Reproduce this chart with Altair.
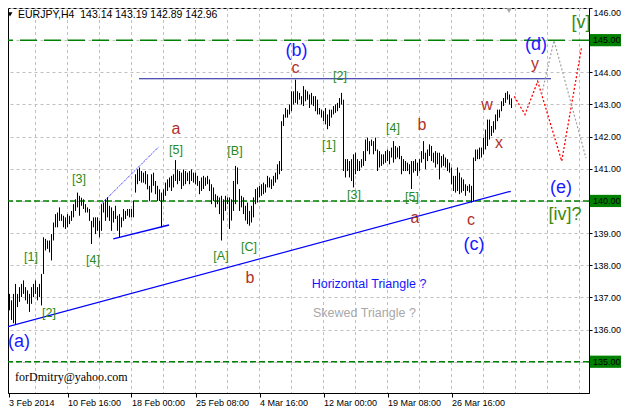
import altair as alt
import pandas as pd

# ---- OHLC bar highs / lows (EURJPY H4), one per bar, left to right ----
bar_high = [
    137.84, 137.50, 137.11, 136.91, 137.11, 137.42, 137.11, 137.32, 137.42, 137.53,
    137.32, 137.22, 137.11, 137.32, 137.42, 137.53, 137.32, 137.42, 137.73, 138.87,
    138.82, 138.77, 138.77, 138.97, 139.33, 139.59, 139.64, 139.80, 139.59, 139.54,
    139.49, 139.59, 139.54, 139.69, 139.90, 140.05, 140.26, 140.16, 140.10, 140.05,
    139.90, 139.80, 139.75, 139.38, 139.49, 139.49, 139.49, 139.38, 139.90, 139.95,
    140.05, 140.11, 139.85, 139.80, 139.69, 139.85, 139.54, 139.59, 139.49, 139.75,
    139.69, 139.75, 139.75, 139.75, 140.00, 140.83, 140.98, 141.04, 140.93, 140.88,
    140.93, 140.83, 140.47, 140.83, 140.88, 140.62, 140.47, 140.36, 140.26, 140.36,
    140.57, 140.67, 140.73, 140.78, 140.83, 141.27, 140.98, 140.93, 140.88, 140.98,
    140.93, 140.88, 140.93, 140.98, 140.88, 140.88, 140.78, 140.62, 140.73, 140.78,
    140.73, 140.78, 140.67, 140.52, 140.42, 140.21, 140.16, 140.11, 140.16, 140.05,
    140.16, 140.11, 140.11, 140.05, 140.62, 141.09, 141.04, 140.37, 140.16, 140.11,
    139.85, 139.95, 139.69, 139.85, 140.11, 140.37, 140.42, 140.47, 140.52, 140.57,
    140.52, 140.78, 140.73, 140.67, 140.78, 140.88, 141.14, 141.24, 142.48, 142.69,
    142.89, 142.84, 143.00, 143.41, 143.41, 143.77, 143.41, 143.36, 143.26, 143.57,
    143.46, 143.41, 143.31, 143.36, 143.26, 143.26, 143.15, 142.89, 142.84, 142.79,
    142.89, 142.69, 142.84, 142.84, 142.95, 143.00, 143.05, 143.20, 143.36, 143.15,
    141.30, 141.30, 141.24, 141.30, 141.45, 141.50, 141.30, 141.24, 141.30, 141.55,
    141.91, 141.97, 141.86, 141.91, 141.86, 141.97, 141.60, 141.55, 141.45, 141.45,
    141.55, 141.60, 141.55, 141.66, 141.86, 141.71, 141.66, 141.71, 141.40, 141.30,
    141.24, 141.19, 141.14, 141.24, 141.24, 141.30, 141.19, 141.30, 141.55, 141.86,
    141.50, 141.60, 141.76, 141.71, 141.50, 141.55, 141.50, 141.50, 141.40, 141.45,
    141.35, 141.30, 141.19, 141.04, 140.78, 140.78, 141.04, 140.88, 140.73, 140.67,
    140.52, 140.47, 140.52, 140.47, 141.35, 141.60, 141.60, 141.66, 141.66, 141.97,
    142.22, 142.53, 142.53, 142.33, 142.48, 142.69, 142.84, 142.84, 143.10, 143.20,
    143.36, 143.41, 143.31, 143.19,
]
bar_low = [
    137.32, 137.00, 136.60, 136.30, 136.20, 136.15, 136.70, 136.86, 137.01, 137.11,
    136.91, 136.80, 136.55, 136.80, 137.01, 137.11, 136.91, 137.01, 136.75, 137.73,
    138.46, 138.51, 138.40, 138.15, 138.77, 139.18, 139.18, 139.38, 139.38, 139.18,
    139.13, 139.18, 139.28, 139.38, 139.49, 139.69, 139.80, 139.54, 139.85, 139.75,
    139.64, 139.64, 139.38, 138.66, 139.18, 138.97, 139.07, 138.87, 139.07, 139.64,
    139.38, 139.49, 139.38, 139.07, 139.33, 139.44, 139.07, 138.87, 139.18, 139.38,
    139.44, 139.54, 139.49, 139.49, 139.49, 140.26, 140.52, 140.62, 140.57, 140.57,
    140.52, 140.36, 140.00, 140.26, 140.47, 140.21, 140.00, 140.00, 139.18, 140.00,
    140.16, 140.31, 140.42, 140.31, 140.42, 140.62, 140.52, 140.62, 140.37, 140.47,
    140.52, 140.62, 140.52, 140.62, 140.57, 140.52, 140.47, 140.21, 140.31, 140.37,
    140.47, 140.52, 140.31, 139.90, 140.00, 139.80, 139.90, 139.59, 138.77, 139.39,
    139.69, 139.90, 139.13, 139.39, 139.69, 139.90, 140.52, 139.69, 139.80, 139.59,
    139.39, 139.28, 139.23, 139.33, 139.49, 139.90, 139.95, 140.11, 140.16, 140.21,
    140.26, 140.42, 140.42, 140.37, 140.47, 140.57, 140.67, 140.83, 140.93, 142.33,
    142.59, 142.59, 142.69, 142.79, 143.00, 143.05, 143.00, 143.15, 143.00, 142.95,
    143.10, 143.15, 142.89, 143.00, 142.95, 142.79, 142.69, 142.69, 142.59, 142.48,
    142.38, 142.23, 142.33, 142.59, 142.69, 142.74, 142.79, 142.89, 143.00, 140.93,
    140.73, 140.93, 140.73, 140.62, 140.42, 140.83, 140.93, 140.93, 141.04, 141.09,
    141.24, 141.55, 141.45, 141.71, 141.45, 141.55, 140.93, 141.04, 141.09, 141.14,
    141.19, 141.24, 141.14, 141.35, 141.19, 141.30, 141.35, 141.30, 140.83, 140.93,
    140.93, 140.93, 140.83, 140.37, 140.88, 140.93, 140.78, 140.93, 141.19, 141.30,
    140.99, 141.24, 141.40, 141.24, 141.19, 141.04, 141.14, 140.67, 141.04, 141.09,
    141.04, 140.93, 140.88, 140.52, 140.31, 140.26, 140.31, 140.21, 140.26, 140.31,
    140.16, 140.31, 140.26, 139.95, 140.00, 141.24, 141.30, 141.30, 141.35, 141.45,
    141.60, 141.71, 141.91, 142.02, 142.12, 142.22, 142.48, 142.59, 142.79, 142.95,
    143.05, 143.15, 143.00, 142.89,
]

# ---- axes ----
price_ticks = [135, 136, 137, 138, 139, 140, 141, 142, 143, 144, 145, 146]
x_tick_idx = [1.5, 31, 63, 95, 127, 159, 191, 223]
x_tick_labels = ["3 Feb 2014", "10 Feb 16:00", "18 Feb 00:00", "25 Feb 08:00",
                 "4 Mar 16:00", "12 Mar 00:00", "19 Mar 08:00", "26 Mar 16:00"]
grid_idx = [15, 31, 47, 63, 79, 95, 111, 127, 143, 159, 175, 191, 207, 223, 239, 255, 271, 287]

# ---- horizontal levels ----
level_main = [145.0]
level_minor = [140.0, 135.0]
level_boxes = [145.0, 140.0, 135.0]

# ---- trend lines (bar index, price) ----
trend_i = [1.25, 252.6]
trend_p = [136.09, 140.30]
resist_i = [66.75, 272.75]
resist_p = [143.80, 143.80]
wedge_up_i = [48.1, 76.6]
wedge_up_p = [139.92, 141.68]
wedge_lo_i = [53.9, 81.75]
wedge_lo_p = [138.82, 139.25]
red_i = [254.4, 259.75, 266.1, 278.1, 288.1]
red_p = [143.25, 142.69, 143.72, 141.24, 144.80]
gray_i = [268.1, 274.25, 290.25]
gray_p = [143.32, 144.99, 141.33]

# ---- wave labels ----
blue_txt = ["(a)", "(b)", "(c)", "(d)", "(e)"]
blue_i = [6.75, 145.5, 234.25, 265.25, 277.75]
blue_p = [135.62, 144.66, 138.64, 144.85, 140.41]

red_txt = ["a", "b", "c", "a", "b", "c", "w", "x", "y"]
red_ti = [85.25, 122.25, 145.0, 204.75, 208.25, 232.75, 240.75, 246.75, 264.75]
red_tp = [142.23, 137.59, 144.13, 139.48, 142.36, 139.415, 142.975, 141.80, 144.26]

green_txt = ["[1]", "[2]", "[3]", "[4]", "[5]", "[A]", "[B]", "[C]",
             "[1]", "[2]", "[3]", "[4]", "[5]"]
green_i = [12.75, 21.75, 36.75, 43.75, 85.25, 107.75, 114.75, 121.75,
           161.75, 167.25, 174.25, 193.75, 203.25]
green_p = [138.27, 136.505, 140.68, 138.15, 141.58, 138.30, 141.55, 138.58,
           141.74, 143.87, 140.19, 142.26, 140.13]

green_big_txt = ["[v]", "[iv]?"]
green_big_i = [287.75, 279.75]
green_big_p = [145.545, 139.57]

note_txt = ["Horizontal Triangle ?", "Skewed Triangle ?"]
note_i = [153.1, 153.75]
note_p = [137.41, 136.51]
note_col = ["#1414ff", "#a8a8a8"]

email_txt = ["forDmitry@yahoo.com"]
email_i = [4.75]
email_p = [134.52]

title_txt = ["EURJPY,H4\u00a0\u00a0143.14 143.19 142.89 142.96"]
title_i = [6.25]
title_p = [145.78]

FONT = "Liberation Sans"

# 2 px per bar; plot area 581 x 385 px
xs = alt.Scale(domain=[1.25, 291.75], nice=False, zero=False)
ys = alt.Scale(domain=[134.028, 146.0], nice=False, zero=False)

label_expr = " : ".join(
    f"datum.value == {v} ? '{l}'" for v, l in zip(x_tick_idx, x_tick_labels)
) + " : ''"

x_axis = alt.Axis(values=x_tick_idx, labelExpr=label_expr, grid=False, title=None,
                  orient="bottom", labelAlign="left", labelBaseline="top",
                  tickSize=4, labelPadding=1, labelFlush=False, labelOverlap=False,
                  labelBound=False)
y_axis = alt.Axis(values=price_ticks, format=".2f", grid=True, title=None,
                  orient="right", tickSize=3, labelPadding=1, labelFlush=True,
                  labelOverlap=False, labelBound=False)


def X(f):
    return alt.X(f, type="quantitative", scale=xs, axis=x_axis)


def Y(f):
    return alt.Y(f, type="quantitative", scale=ys, axis=y_axis)


def line_df(ii, pp):
    return pd.DataFrame({"i": ii, "p": pp, "k": list(range(len(ii)))})


vgrid = alt.Chart(pd.DataFrame({"i": grid_idx})).mark_rule(
    color="#c0c0c0", strokeDash=[3, 3], strokeWidth=1, clip=True
).encode(x=X("i"))

lvl_main = alt.Chart(pd.DataFrame({"p": level_main})).mark_rule(
    color="#008000", strokeWidth=1.5, strokeDash=[17, 7]
).encode(y=Y("p"))

lvl_minor = alt.Chart(pd.DataFrame({"p": level_minor})).mark_rule(
    color="#008000", strokeWidth=1.5, strokeDash=[6, 3]
).encode(y=Y("p"))

trend = alt.Chart(line_df(trend_i, trend_p)).mark_line(
    color="#0000ff", strokeWidth=1.2, clip=True
).encode(x=X("i"), y=Y("p"), order="k:Q")

resist = alt.Chart(line_df(resist_i, resist_p)).mark_line(
    color="#18189a", strokeWidth=1.2, clip=True
).encode(x=X("i"), y=Y("p"), order="k:Q")

wedge_up = alt.Chart(line_df(wedge_up_i, wedge_up_p)).mark_line(
    color="#0000ff", strokeWidth=1, strokeDash=[1, 1], clip=True
).encode(x=X("i"), y=Y("p"), order="k:Q")

wedge_lo = alt.Chart(line_df(wedge_lo_i, wedge_lo_p)).mark_line(
    color="#0000ff", strokeWidth=1.5, clip=True
).encode(x=X("i"), y=Y("p"), order="k:Q")

bars_df = pd.DataFrame({"i": list(range(len(bar_high))), "high": bar_high, "low": bar_low})
bars = alt.Chart(bars_df).mark_rule(color="black", strokeWidth=1, clip=True).encode(
    x=X("i"), y=Y("low"), y2="high"
)

red_path = alt.Chart(line_df(red_i, red_p)).mark_line(
    color="#ff0000", strokeWidth=1.3, strokeDash=[2, 2], clip=True
).encode(x=X("i"), y=Y("p"), order="k:Q")

gray_path = alt.Chart(line_df(gray_i, gray_p)).mark_line(
    color="#a0a0a0", strokeWidth=1.2, strokeDash=[2, 2], clip=True
).encode(x=X("i"), y=Y("p"), order="k:Q")


def text_layer(txt, ii, pp, size, color, align="center", font=FONT):
    df = pd.DataFrame({"t": txt, "i": ii, "p": pp})
    return alt.Chart(df).mark_text(
        fontSize=size, color=color, align=align, baseline="middle", font=font
    ).encode(x=X("i"), y=Y("p"), text="t:N")


blue_lbl = text_layer(blue_txt, blue_i, blue_p, 18, "#1a1aff")
red_lbl = text_layer(red_txt, red_ti, red_tp, 16, "#b0302a")
green_lbl = text_layer(green_txt, green_i, green_p, 12.5, "#2a8a22")
green_big = text_layer(green_big_txt, green_big_i, green_big_p, 18, "#3a8a10")

notes_df = pd.DataFrame({"t": note_txt, "i": note_i, "p": note_p, "c": note_col})
notes = alt.Chart(notes_df).mark_text(
    fontSize=12.5, align="left", baseline="middle", font=FONT
).encode(x=X("i"), y=Y("p"), text="t:N", color=alt.Color("c:N", scale=None))

email = text_layer(email_txt, email_i, email_p, 12, "black", align="left",
                   font="Liberation Serif")
title = text_layer(title_txt, title_i, title_p, 10.5, "black", align="left")
title_mark = alt.Chart(pd.DataFrame({"i": [2.25], "p": [145.80]})).mark_point(
    shape="triangle-down", filled=True, color="black", size=24, opacity=1
).encode(x=X("i"), y=Y("p"))
shift_mark = alt.Chart(pd.DataFrame({"i": [251.75], "p": [145.93]})).mark_point(
    shape="triangle-down", filled=True, color="#a8a8a8", size=40, opacity=1
).encode(x=X("i"), y=Y("p"))

box_df = pd.DataFrame({"p": level_boxes, "label": [f"{v:.2f}" for v in level_boxes]})
boxes = alt.Chart(box_df).transform_calculate(
    top="datum.p + 0.19", bot="datum.p - 0.19"
).mark_rect(color="#008000").encode(
    x=alt.value(582), x2=alt.value(613), y=Y("top"), y2="bot:Q"
)
box_text = alt.Chart(box_df).mark_text(
    align="left", baseline="middle", font=FONT, fontSize=9, color="black"
).encode(x=alt.value(585), y=Y("p"), text="label:N")

chart = alt.layer(
    vgrid, lvl_main, lvl_minor, trend, resist, wedge_up, wedge_lo, bars,
    red_path, gray_path, blue_lbl, red_lbl, green_lbl, green_big, notes,
    email, title, title_mark, shift_mark, boxes, box_text
).properties(
    width=581, height=385,
    padding={"left": 0, "top": 0, "right": 32, "bottom": 17},
    autosize=alt.AutoSizeParams(type="none"),
    background="white",
).configure_view(
    stroke="black", strokeWidth=1
).configure_axis(
    labelFont=FONT, labelFontSize=9, labelColor="black",
    tickColor="black", domainColor="black", gridColor="#c0c0c0",
    gridDash=[3, 3], gridWidth=1
)

chart.save("out.html", embed_options={"renderer": "svg", "actions": False})
